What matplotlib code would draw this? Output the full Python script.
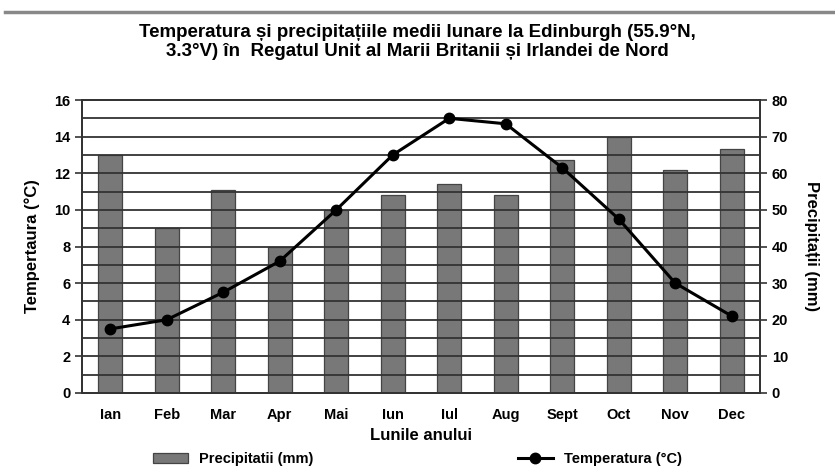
import matplotlib
matplotlib.use("Agg")
import matplotlib.pyplot as plt
from matplotlib.lines import Line2D
import numpy as np

months = ["Ian", "Feb", "Mar", "Apr", "Mai", "Iun", "Iul", "Aug", "Sept", "Oct", "Nov", "Dec"]
temperature = [3.5, 4.0, 5.5, 7.2, 10.0, 13.0, 15.0, 14.7, 12.3, 9.5, 6.0, 4.2]
precipitation = [65, 45, 55.5, 40, 50, 54, 57, 54, 63.5, 70, 61, 66.5]

plt.rcParams['font.family'] = ['Liberation Sans', 'DejaVu Sans']
plt.rcParams['font.weight'] = 'bold'

fig = plt.figure(figsize=(8.35, 4.7), dpi=100)
ax = fig.add_axes([82/835, 1 - 393/470, (760-82)/835, (393-100)/470])
ax2 = ax.twinx()

x = np.arange(len(months))
ax.set_xlim(-0.5, len(months) - 0.5)
ax.set_ylim(0, 16)
ax2.set_ylim(0, 80)

# horizontal gridlines every 1 unit
for v in np.arange(1, 16, 1):
    ax.axhline(v, color='#333333', lw=1.3, zorder=0)

bars = ax2.bar(x, precipitation, width=0.42, color='#787878', edgecolor='#444444', lw=0.9, zorder=2,
               label='Precipitatii (mm)')
ax.set_zorder(ax2.get_zorder() + 1)
ax.patch.set_visible(False)
line, = ax.plot(x, temperature, color='black', lw=2.2, marker='o', markersize=7.5, zorder=3,
                label='Temperatura (°C)')

ax.set_yticks(np.arange(0, 17, 2))
ax2.set_yticks(np.arange(0, 81, 10))
ax.set_xticks(x)
ax.set_xticklabels(months)
for a in (ax, ax2):
    a.tick_params(labelsize=10.5, width=1.2, length=5, color='#333333')
    for s in a.spines.values():
        s.set_color('#333333')
        s.set_linewidth(1.3)
ax.tick_params(axis='x', length=0, pad=11)

ax.set_ylabel('Tempertaura (°C)', fontsize=12, fontweight='bold', labelpad=10)
ax2.set_ylabel('Precipitații (mm)', fontsize=12, fontweight='bold', rotation=-90, labelpad=22)
ax.set_xlabel('Lunile anului', fontsize=12, fontweight='bold', labelpad=4)

fig.text(0.5, 1 - 42/470, 'Temperatura și precipitațiile medii lunare la Edinburgh (55.9°N,\n3.3°V) în  Regatul Unit al Marii Britanii și Irlandei de Nord',
         ha='center', va='center', fontsize=13.5, fontweight='bold', linespacing=1.2)

fig.add_artist(Line2D([5/835, 1], [1 - 12/470, 1 - 12/470], color='#888888', lw=2.5))

fig.legend(handles=[bars, line], labels=['Precipitatii (mm)', 'Temperatura (°C)'],
           loc='center', bbox_to_anchor=(0.5, 1 - 459/470), ncol=2, frameon=False,
           fontsize=10.5, columnspacing=14, handlelength=2.4)

fig.savefig('out.png', dpi=100)
